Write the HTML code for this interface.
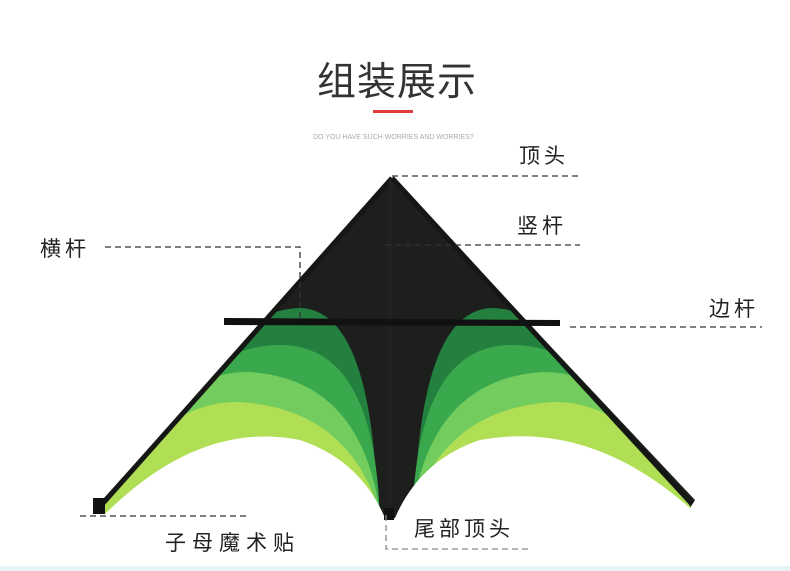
<!DOCTYPE html>
<html><head><meta charset="utf-8"><style>
body{margin:0;width:790px;height:571px;background:#fff;overflow:hidden;position:relative;font-family:"Liberation Sans","Noto Sans CJK SC",sans-serif}
.t{position:absolute;color:#222;white-space:nowrap}
</style></head><body>
<div class="t" style="left:317px;top:51px;font-size:39px;color:#333;letter-spacing:1px">组装展示</div>
<div style="position:absolute;left:373px;top:110px;width:40px;height:3px;background:#e43b3b"></div>
<div class="t" style="left:313px;top:134px;font-size:7px;color:#aaa">DO YOU HAVE SUCH WORRIES AND WORRIES?</div>
<svg width="790" height="571" style="position:absolute;left:0;top:0">
<defs>
<clipPath id="L"><path d="M392,178 L90,515 L386,520 Z"/></clipPath>
<clipPath id="R"><path d="M392,178 L698,510 L394,520 Z"/></clipPath>
</defs>
<path d="M392,178 L95,508 L105,514 L385,518 L395,518 L690,508 L695,500 Z" fill="#1c1f1b"/>
<g clip-path="url(#L)">
<path d="M170,530 Q200,310 300,308 Q375,310 378,530 Z" fill="#24803f"/>
<path d="M135,530 Q170,345 280,345 Q378,345 380,530 Z" fill="#3aa84c"/>
<path d="M115,530 Q150,370 250,372 Q368,380 382,530 Z" fill="#72cc5e"/>
<path d="M90,530 Q150,400 240,402 Q358,410 384,530 Z" fill="#b0df55"/>
</g>
<g clip-path="url(#R)">
<path d="M622,530 Q592,310 492,308 Q417,310 414,530 Z" fill="#24803f"/>
<path d="M657,530 Q622,345 512,345 Q414,345 412,530 Z" fill="#3aa84c"/>
<path d="M677,530 Q642,370 542,372 Q424,380 410,530 Z" fill="#72cc5e"/>
<path d="M702,530 Q642,400 552,402 Q434,410 408,530 Z" fill="#b0df55"/>
</g>
<path d="M105,514 Q200,420 300,440 Q360,460 385,518 L385,571 L0,571 L0,514 Z" fill="#fff"/>
<path d="M395,518 Q420,460 480,440 Q590,420 690,508 L790,508 L790,571 L395,571 Z" fill="#fff"/>
<path d="M392,178 L97,510" stroke="#151715" stroke-width="5"/>
<path d="M392,178 L692,504" stroke="#151715" stroke-width="5"/>
<line x1="390" y1="180" x2="390" y2="518" stroke="#222" stroke-width="2.5"/>
<path d="M224,318 L560,320 L560,326 L224,325 Z" fill="#111"/>
<rect x="93" y="498" width="12" height="16" fill="#111"/>
<rect x="384" y="508" width="10" height="12" fill="#111"/>
<g stroke="#333" stroke-width="1.3" stroke-dasharray="6,4" fill="none">
<path d="M392,176 H582"/>
<path d="M385,245 H580"/>
<path d="M105,247 H300 V318"/>
<path d="M570,327 H762"/>
<path d="M80,516 H248"/>
<path d="M386,515 V549 H530" stroke="#888"/>
</g>
<rect x="0" y="566" width="790" height="5" fill="#e6f2f6"/>
</svg>
<div class="t" style="left:519px;top:140px;font-size:21px;letter-spacing:4px">顶头</div>
<div class="t" style="left:517px;top:210px;font-size:21px;letter-spacing:4px">竖杆</div>
<div class="t" style="left:40px;top:233px;font-size:21px;letter-spacing:4px">横杆</div>
<div class="t" style="left:709px;top:293px;font-size:21px;letter-spacing:4px">边杆</div>
<div class="t" style="left:165px;top:527px;font-size:21px;letter-spacing:6px">子母魔术贴</div>
<div class="t" style="left:414px;top:513px;font-size:21px;letter-spacing:4px">尾部顶头</div>
</body></html>
